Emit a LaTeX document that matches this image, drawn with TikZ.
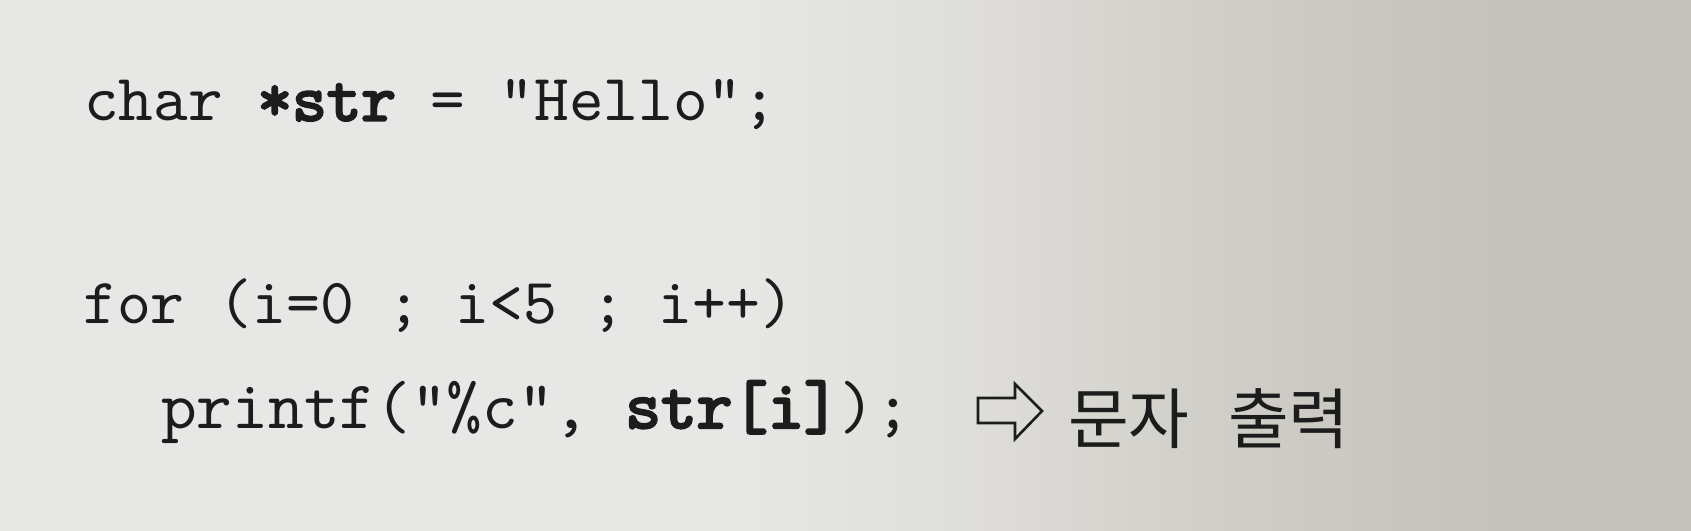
\documentclass[tikz,border=0pt]{standalone}
\usepackage{fontspec}
\newfontfamily\code{lmmono10-regular.otf}
\newfontfamily\codebf[FakeBold=3.5]{lmmono10-regular.otf}
\newfontfamily\kor{Noto Sans CJK KR}
\definecolor{ink}{HTML}{1C1C1C}
\definecolor{pA}{HTML}{DCDCD9}
\definecolor{pB}{HTML}{E7E7E5}
\definecolor{pC}{HTML}{DEDDD9}
\definecolor{pD}{HTML}{D0CEC8}
\definecolor{pE}{HTML}{C4C1BA}
\definecolor{pF}{HTML}{C3C0B9}
\pgfdeclarehorizontalshading{paper}{100bp}{
  color(0bp)=(pA); color(10bp)=(pB); color(47bp)=(pB); color(54bp)=(pC);
  color(61bp)=(pD); color(70bp)=(pE); color(100bp)=(pF)}
\tikzset{
  codeW/.style={anchor=base west, inner sep=0pt, text=ink,
    font=\code\fontsize{66}{72}\selectfont},
  codeA/.style={anchor=base west, inner sep=0pt, text=ink,
    font=\code\fontsize{64.5}{72}\selectfont},
  codeB/.style={anchor=base west, inner sep=0pt, text=ink,
    font=\code\fontsize{68}{76}\selectfont},
  kortext/.style={anchor=base west, inner sep=0pt, text=ink,
    font=\kor\fontsize{66}{70}\selectfont},
  hollowarrow/.style={draw=ink, line width=2.6pt, line join=miter}
}
\begin{document}
\begin{tikzpicture}[x=1pt,y=-1pt]
\useasboundingbox (0,0) rectangle (1691,530);
\shade[shading=paper] (0,0) rectangle (1691,530);
\node[codeW] (l1) at (84,120.5) {char {\codebf *str} = "Hello";};
\node[codeA] (l2) at (83,323) {for (i=0 ; i<5 ; i++)};
\node[codeB] (l3) at (161,428) {printf("\%c", {\codebf str[i]});};
\draw[hollowarrow] (978,398) -- (1015,398) -- (1015,384) -- (1042,411)
  -- (1015,439) -- (1015,423) -- (978,423) -- cycle;
\node[kortext] (k1) at (1068,443) {문자};
\node[kortext] (k2) at (1228,443) {출력};
\end{tikzpicture}
\end{document}
